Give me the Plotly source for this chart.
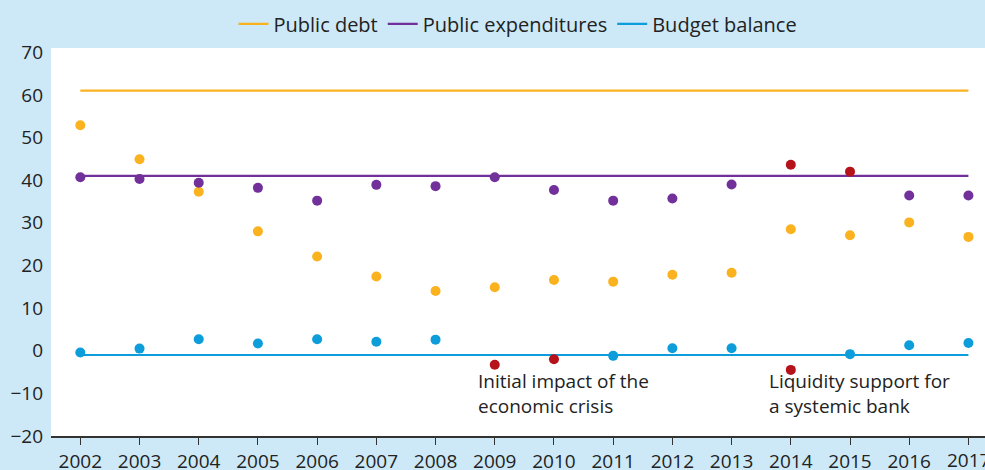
import plotly.graph_objects as go

# Years on the x axis
years = list(range(2002, 2018))

# Reference levels (horizontal lines)
debt_level = 61.0
expenditure_level = 41.0
balance_level = -1.0

# Yearly observations, % of GDP
public_debt = [52.9, 44.9, 37.3, 28.0, 22.1, 17.4, 14.0, 14.9,
               16.6, 16.2, 17.8, 18.3, 28.5, 27.1, 30.1, 26.7]
public_expenditures = [40.7, 40.3, 39.4, 38.2, 35.2, 38.9, 38.6, 40.7,
                       37.7, 35.2, 35.7, 39.0, 43.6, 42.0, 36.4, 36.4]
budget_balance = [-0.4, 0.5, 2.7, 1.7, 2.7, 2.1, 2.6, -3.3,
                  -2.0, -1.2, 0.6, 0.6, -4.5, -0.8, 1.3, 1.8]

# Years flagged as exceptional in each series
expenditure_flags = [2014, 2015]
balance_flags = [2009, 2010, 2014]

y_ticks = [-20, -10, 0, 10, 20, 30, 40, 50, 60, 70]
year_labels = [str(y) for y in years]

ORANGE = "#fbb21f"
PURPLE = "#71309a"
BLUE = "#0d9ddb"
RED = "#b5121b"
BAND = "#cde9f8"
INK = "#222222"
FONT = "Open Sans"

fig = go.Figure()

# Horizontal reference lines (these carry the legend)
for name, level, color in [("Public debt", debt_level, ORANGE),
                           ("Public expenditures", expenditure_level, PURPLE),
                           ("Budget balance", balance_level, BLUE)]:
    fig.add_trace(go.Scatter(
        x=[years[0], years[-1]], y=[level, level], mode="lines",
        line=dict(color=color, width=2.2), name=name, hoverinfo="skip"))


def colors_for(base, flags):
    return [RED if yr in flags else base for yr in years]


for name, vals, color, flags in [("Public debt", public_debt, ORANGE, []),
                                 ("Public expenditures", public_expenditures, PURPLE, expenditure_flags),
                                 ("Budget balance", budget_balance, BLUE, balance_flags)]:
    fig.add_trace(go.Scatter(
        x=years, y=vals, mode="markers", name=name, showlegend=False,
        marker=dict(size=10, color=colors_for(color, flags), line=dict(width=0))))

# Event notes
notes = [(2008.69, "Initial impact of the<br>economic crisis"),
         (2013.6, "Liquidity support for<br>a systemic bank")]
for xpos, txt in notes:
    fig.add_annotation(x=xpos, y=-10, xref="x", yref="y", text=txt,
                       showarrow=False, xanchor="left", yanchor="middle",
                       align="left", font=dict(family=FONT, size=19, color=INK))

# The last year's label sits on the right edge of the page, where the axis
# would drop it, so it is written as a note below the axis instead.
fig.add_annotation(x=years[-1], y=0, xref="x", yref="paper", text=year_labels[-1],
                   showarrow=False, xanchor="center", yanchor="top", yshift=-9,
                   font=dict(family=FONT, size=19, color=INK))

fig.update_layout(
    width=985, height=470,
    margin=dict(l=51, r=0, t=48, b=34, autoexpand=False),
    paper_bgcolor=BAND, plot_bgcolor="white",
    font=dict(family=FONT, size=19, color=INK),
    showlegend=True,
    legend=dict(orientation="h", x=0.5, xanchor="center", y=1.062, yanchor="middle",
                yref="paper", bgcolor="rgba(0,0,0,0)",
                font=dict(family=FONT, size=20, color=INK),
                itemwidth=30, tracegroupgap=0),
)

fig.update_xaxes(
    range=[2001.505, 2017.28], tickmode="array", tickvals=years,
    ticktext=year_labels[:-1] + [""], showgrid=False, zeroline=False,
    showline=True, linecolor="#333333", linewidth=1.5,
    ticks="outside", ticklen=7, tickcolor="#333333", tickwidth=1,
    automargin=False, tickfont=dict(family=FONT, size=19, color=INK))

fig.update_yaxes(
    range=[-20, 71], tickmode="array", tickvals=y_ticks,
    showgrid=False, zeroline=False, showline=False, ticks="",
    ticklabelstandoff=7, automargin=False,
    tickfont=dict(family=FONT, size=19, color=INK))

fig.write_html("out.html")
